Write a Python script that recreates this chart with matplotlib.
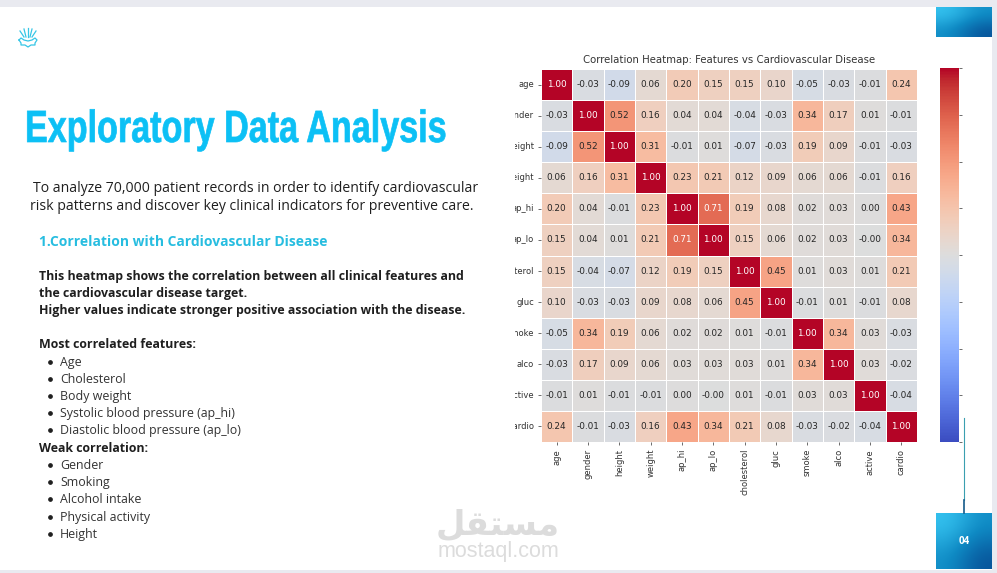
#!/usr/bin/env python3
"""EDA slide with the correlation heatmap of the cardio data"""
import matplotlib
matplotlib.use('Agg')
import matplotlib.pyplot as plt
import numpy as np
import seaborn as sns
from matplotlib.patheffects import AbstractPathEffect
from matplotlib.transforms import Affine2D, Bbox

features = ['age', 'gender', 'height', 'weight', 'ap_hi', 'ap_lo',
            'cholesterol', 'gluc', 'smoke', 'alco', 'active', 'cardio']

age = [1.00, -0.03, -0.09, 0.06, 0.20, 0.15, 0.15, 0.10, -0.05, -0.03, -0.01, 0.24]
gender = [-0.03, 1.00, 0.52, 0.16, 0.04, 0.04, -0.04, -0.03, 0.34, 0.17, 0.01, -0.01]
height = [-0.09, 0.52, 1.00, 0.31, -0.01, 0.01, -0.07, -0.03, 0.19, 0.09, -0.01, -0.03]
weight = [0.06, 0.16, 0.31, 1.00, 0.23, 0.21, 0.12, 0.09, 0.06, 0.06, -0.01, 0.16]
ap_hi = [0.20, 0.04, -0.01, 0.23, 1.00, 0.71, 0.19, 0.08, 0.02, 0.03, 0.00, 0.43]
ap_lo = [0.15, 0.04, 0.01, 0.21, 0.71, 1.00, 0.15, 0.06, 0.02, 0.03, -0.001, 0.34]
cholesterol = [0.15, -0.04, -0.07, 0.12, 0.19, 0.15, 1.00, 0.45, 0.01, 0.03, 0.01, 0.21]
gluc = [0.10, -0.03, -0.03, 0.09, 0.08, 0.06, 0.45, 1.00, -0.01, 0.01, -0.01, 0.08]
smoke = [-0.05, 0.34, 0.19, 0.06, 0.02, 0.02, 0.01, -0.01, 1.00, 0.34, 0.03, -0.03]
alco = [-0.03, 0.17, 0.09, 0.06, 0.03, 0.03, 0.03, 0.01, 0.34, 1.00, 0.03, -0.02]
active = [-0.01, 0.01, -0.01, -0.01, 0.00, -0.001, 0.01, -0.01, 0.03, 0.03, 1.00, -0.04]
cardio = [0.24, -0.01, -0.03, 0.16, 0.43, 0.34, 0.21, 0.08, -0.03, -0.02, -0.04, 1.00]

most_correlated = ['Age', 'Cholesterol', 'Body weight',
                   'Systolic blood pressure (ap_hi)', 'Diastolic blood pressure (ap_lo)']
weak_correlation = ['Gender', 'Smoking', 'Alcohol intake', 'Physical activity', 'Height']

W, H = 997, 573
CYAN = '#0cc0f5'
DARK = '#1f1f1f'


class Condensed(AbstractPathEffect):
    # no condensed font installed, so squeeze the glyphs around the text start
    def __init__(self, sx, x0, stroke):
        super().__init__()
        self.sx, self.x0, self.stroke = sx, x0, stroke

    def draw_path(self, renderer, gc, tpath, affine, rgbFace=None):
        gc0 = renderer.new_gc()
        gc0.copy_properties(gc)
        gc0.set_linewidth(self.stroke)
        gc0.set_foreground(rgbFace)
        squeeze = Affine2D().translate(-self.x0, 0).scale(self.sx, 1).translate(self.x0, 0)
        renderer.draw_path(gc0, tpath, affine + squeeze, rgbFace)
        gc0.restore()


def px_axes(x0, y0, x1, y1):
    # axes placed with pixel coords measured from the top left
    return fig.add_axes([x0 / W, 1 - y1 / H, (x1 - x0) / W, (y1 - y0) / H])


fig = plt.figure(figsize=(W / 100, H / 100), dpi=100, facecolor='white')

# slide layer, data coords are pixels
bg = fig.add_axes([0, 0, 1, 1])
bg.set_xlim(0, W)
bg.set_ylim(H, 0)
bg.axis('off')
bg.fill_between([0, W], 0, 7, color='#e9eaf0', lw=0)
bg.fill_between([0, W], 570, H, color='#e9eaf0', lw=0)
bg.fill_between([992, W], 0, H, color='#e9eaf0', lw=0)


def gradient_box(x0, y0, x1, y1):
    grad = np.array([[0.0, 0.45], [0.45, 1.0]])
    cmap = matplotlib.colors.LinearSegmentedColormap.from_list('box', ['#35c3f0', '#0f8ac4', '#07549a'])
    bg.imshow(grad, extent=(x0, x1, y1, y0), cmap=cmap, interpolation='bicubic', aspect='auto', zorder=2)


gradient_box(936, 7, 992, 37)
gradient_box(936, 513, 992, 569)
bg.set_xlim(0, W)
bg.set_ylim(H, 0)
bg.text(964, 541.5, '04', color='white', fontsize=7, fontweight='bold', ha='center', va='center',
        family='Open Sans', zorder=3)
bg.plot([964, 964], [418, 500], color='#3a9fb0', lw=0.8, zorder=3)
bg.plot([964, 964], [500, 513], color='#155a8a', lw=1.2, zorder=3)

# logo
for dx, top in zip([-8, -4, 0, 4, 8], [31, 29, 28, 29, 31]):
    bg.plot([28 + dx * 0.5, 28 + dx], [37, top], color='#35c6e6', lw=0.9)
bg.plot([19, 21, 24, 28, 32, 35, 37, 35, 35, 31, 28, 25, 21, 21, 19],
        [40, 38, 40, 41, 40, 38, 40, 43, 45, 45, 47, 45, 45, 43, 40], color='#35c6e6', lw=0.9)

# left column text
bg.text(25, 142, 'Exploratory Data Analysis', color=CYAN, fontsize=32.5, fontweight='bold',
        family='Liberation Sans', va='baseline',
        path_effects=[Condensed(0.756, 25, 0.5)])
body = {'family': 'Open Sans', 'color': DARK, 'va': 'center'}
bg.text(33, 188, 'To analyze 70,000 patient records in order to identify cardiovascular', fontsize=10.05, **body)
bg.text(30, 207, 'risk patterns and discover key clinical indicators for preventive care.', fontsize=10.05, **body)
bg.text(39, 242, '1.Correlation with Cardiovascular Disease', color='#27bde0', fontsize=10.03,
        fontweight='bold', family='Open Sans', va='center')
bg.text(39, 276.5, 'This heatmap shows the correlation between all clinical features and', fontsize=8.95,
        fontweight='bold', **body)
bg.text(39, 293.5, 'the cardiovascular disease target.', fontsize=8.95, fontweight='bold', **body)
bg.text(39, 310.5, 'Higher values indicate stronger positive association with the disease.', fontsize=8.95,
        fontweight='bold', **body)
bg.text(39, 345, 'Most correlated features:', fontsize=8.95, fontweight='bold', **body)
for y, item in zip([362, 379, 396, 413, 430], most_correlated):
    bg.plot([50], [y], 'o', color=DARK, ms=2.4)
    bg.text(60, y + 0.5, item, fontsize=8.95, family='Open Sans', color='#333333', va='center')
bg.text(39, 448, 'Weak correlation:', fontsize=8.95, fontweight='bold', **body)
for y, item in zip([465, 482, 499, 517, 534], weak_correlation):
    bg.plot([50], [y], 'o', color=DARK, ms=2.4)
    bg.text(60, y + 0.5, item, fontsize=8.95, family='Open Sans', color='#333333', va='center')

# watermark
bg.text(498, 525, '\ufede\ufed8\ufe98\ufeb4\ufee3', color='#dcdcdc', fontsize=24.5, fontweight='bold',
        family='DejaVu Sans', ha='center', va='center')
bg.text(498, 552, 'mostaql.com', color='#dcdcdc', fontsize=15.5, family='Liberation Sans', ha='center', va='center')

# heatmap
corr = np.array([age, gender, height, weight, ap_hi, ap_lo,
                 cholesterol, gluc, smoke, alco, active, cardio])
ax = px_axes(541, 69, 917, 442)
cax = px_axes(940, 68, 959, 442)
sns.heatmap(corr, ax=ax, cbar_ax=cax, cmap='coolwarm', vmin=-1, vmax=1, annot=True, fmt='.2f',
            linewidths=0.5, linecolor='white', xticklabels=features, yticklabels=features,
            annot_kws={'fontsize': 6.4})
ax.set_title('Correlation Heatmap: Features vs Cardiovascular Disease', fontsize=7.3, color='#333333', pad=4)
ax.tick_params(axis='both', labelsize=6.0, length=2.5, width=0.6, pad=2.5, color='#555555', labelcolor='#333333')
plt.setp(ax.get_xticklabels(), rotation=90)
plt.setp(ax.get_yticklabels(), rotation=0)
# the screenshot cuts the row labels off on the left
for lab in ax.get_yticklabels():
    lab.set_clip_box(Bbox([[515, 0], [541, H]]))
    lab.set_clip_on(True)

cax.set_yticks([-1, -0.75, -0.5, -0.25, 0, 0.25, 0.5, 0.75, 1])
cax.tick_params(axis='y', labelright=False, length=2.5, width=0.6, color='#555555')

plt.savefig('out.png', dpi=100)
plt.close()
